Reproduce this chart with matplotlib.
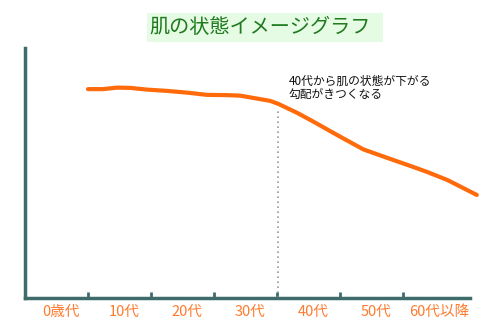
import numpy as np
import matplotlib.pyplot as plt
from matplotlib.patches import Rectangle

plt.rcParams['font.family'] = ['Noto Sans CJK JP', 'DejaVu Sans']

# age position (decades) vs. skin condition score
age = [1.0, 1.24, 1.46, 1.67, 1.94, 2.25, 2.57, 2.89, 3.21, 3.41, 3.62, 3.89,
       4.02, 4.32, 4.57, 4.95, 5.37, 5.75, 6.16, 6.38, 6.70, 7.17]
condition = [83.5, 83.5, 84.1, 84.0, 83.3, 82.8, 82.1, 81.2, 81.1, 80.9, 80.0, 78.8,
             77.6, 74.0, 70.6, 65.2, 59.4, 56.0, 52.4, 50.4, 47.2, 41.2]
age_labels = ["0歳代", "10代", "20代", "30代", "40代", "50代", "60代以降"]
turn_point = 4.02

spine_color = "#3f6b6b"
orange = "#ff6a0a"

fig = plt.figure(figsize=(5, 3.3), dpi=100)
ax = fig.add_axes([0.05, 0.097, 0.92, 0.758])

ax.plot(age, condition, color=orange, linewidth=3, solid_capstyle="round",
        solid_joinstyle="round", zorder=3)
ax.axvline(turn_point, ymin=0, ymax=0.76, color="#9a9a9a", linestyle=(0, (1, 2)), linewidth=1.2)

ax.set_xlim(0, 7.3)
ax.set_ylim(0, 100)

for s in ["top", "right"]:
    ax.spines[s].set_visible(False)
for s in ["left", "bottom"]:
    ax.spines[s].set_color(spine_color)
    ax.spines[s].set_linewidth(2.5)
ax.spines["bottom"].set_bounds(0, 7.06)

ax.set_xticks(range(1, 7))
ax.set_xticklabels([])
ax.tick_params(axis="x", which="major", direction="in", length=4, width=2, color=spine_color)
ax.set_xticks(np.arange(len(age_labels)) + 0.57, minor=True)
ax.set_xticklabels(age_labels, minor=True)
ax.tick_params(axis="x", which="minor", length=0, pad=5, labelsize=10.5, labelcolor="#ff7a2e")
ax.set_yticks([])

ax.text(4.18, 84, "40代から肌の状態が下がる\n勾配がきつくなる", fontsize=8.5,
        color="#111111", va="center", ha="left", linespacing=1.0)

# title banner
fig.patches.append(Rectangle((0.294, 0.873), 0.472, 0.088, transform=fig.transFigure,
                             facecolor="#e6fbe3", edgecolor="none"))
fig.text(0.52, 0.917, "肌の状態イメージグラフ", fontsize=14.5, color="#1f7a1f",
         ha="center", va="center")

fig.savefig("out.png", dpi=100)
